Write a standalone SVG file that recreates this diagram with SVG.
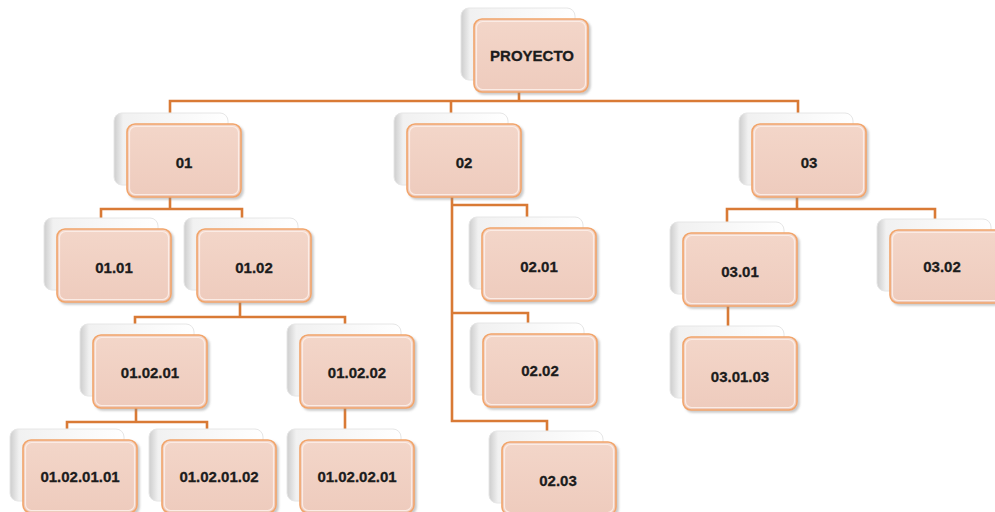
<svg xmlns="http://www.w3.org/2000/svg" xmlns:xlink="http://www.w3.org/1999/xlink" width="995" height="512" viewBox="0 0 995 512">
  <defs>
    <linearGradient id="backFill" x1="0" y1="0" x2="1" y2="0">
      <stop offset="0" stop-color="#cdcdcd"/>
      <stop offset="0.08" stop-color="#f1f1f1"/>
      <stop offset="1" stop-color="#ffffff"/>
    </linearGradient>
    <linearGradient id="frontFill" x1="0" y1="0" x2="0" y2="1">
      <stop offset="0" stop-color="#f3d6c9"/>
      <stop offset="1" stop-color="#eecbbd"/>
    </linearGradient>
    <filter id="shade" x="-10%" y="-10%" width="130%" height="130%">
      <feDropShadow dx="2" dy="2" stdDeviation="1.2" flood-color="#888" flood-opacity="0.45"/>
    </filter>
    <!-- stacked card: a pale back sheet with the peach front sheet on top -->
    <g id="card">
      <rect x="-13" y="-11" width="114" height="72" rx="8" fill="url(#backFill)" stroke="#e6e6e6" stroke-width="1"/>
      <rect x="0" y="0" width="114" height="73" rx="8" fill="url(#frontFill)" stroke="#f2a56b" stroke-width="1.6" filter="url(#shade)"/>
      <rect x="2.5" y="2.5" width="109" height="68" rx="6" fill="none" stroke="#fbece5" stroke-width="1.2"/>
    </g>
  </defs>
  <style>
    .lbl { font-family: "Liberation Sans", Arial, sans-serif; font-weight: bold; font-size: 15px; fill: #1c1c1c; stroke: #1c1c1c; stroke-width: 0.3; text-anchor: middle; }
    .wire { fill: none; stroke: #d97a35; stroke-width: 2.6; stroke-linecap: square; }
  </style>

  <rect width="995" height="512" fill="#ffffff"/>

  <g id="connectors" class="wire">
    <path d="M519,91 V101 M170,101 H798 M170,101 V113 M451,101 V113 M798,101 V113"/>
    <path d="M170,196 V209 M101,209 H242 M101,209 V219 M242,209 V219"/>
    <path d="M240,302 V317 M135,317 H345 M135,317 V325 M345,317 V325"/>
    <path d="M136,408 V422 M67,422 H207 M67,422 V430 M207,422 V430"/>
    <path d="M345,408 V430"/>
    <path d="M452,197 V421 M452,205 H527 V217 M452,313 H528 V323 M452,421 H547 V432"/>
    <path d="M797,198 V209 M727,209 H935 M727,209 V222 M935,209 V218"/>
    <path d="M728,305 V328"/>
  </g>

  <g id="proyecto" transform="translate(474,19)"><use xlink:href="#card"/><text class="lbl" x="58" y="42">PROYECTO</text></g>

  <g id="n01" transform="translate(127,124)"><use xlink:href="#card"/><text class="lbl" x="57" y="44">01</text></g>
  <g id="n02" transform="translate(407,124)"><use xlink:href="#card"/><text class="lbl" x="57" y="44">02</text></g>
  <g id="n03" transform="translate(752,124)"><use xlink:href="#card"/><text class="lbl" x="57" y="44">03</text></g>

  <g id="n01-01" transform="translate(57,229)"><use xlink:href="#card"/><text class="lbl" x="57" y="44">01.01</text></g>
  <g id="n01-02" transform="translate(197,229)"><use xlink:href="#card"/><text class="lbl" x="57" y="44">01.02</text></g>
  <g id="n02-01" transform="translate(482,228)"><use xlink:href="#card"/><text class="lbl" x="57" y="44">02.01</text></g>
  <g id="n03-01" transform="translate(683,233)"><use xlink:href="#card"/><text class="lbl" x="57" y="44">03.01</text></g>
  <g id="n03-02" transform="translate(890,230)"><use xlink:href="#card"/><text class="lbl" x="52" y="42">03.02</text></g>

  <g id="n01-02-01" transform="translate(93,335)"><use xlink:href="#card"/><text class="lbl" x="57" y="43">01.02.01</text></g>
  <g id="n01-02-02" transform="translate(300,335)"><use xlink:href="#card"/><text class="lbl" x="57" y="43">01.02.02</text></g>
  <g id="n02-02" transform="translate(483,334)"><use xlink:href="#card"/><text class="lbl" x="57" y="42">02.02</text></g>
  <g id="n03-01-03" transform="translate(683,337)"><use xlink:href="#card"/><text class="lbl" x="57" y="45">03.01.03</text></g>

  <g id="n01-02-01-01" transform="translate(23,440)"><use xlink:href="#card"/><text class="lbl" x="57" y="42">01.02.01.01</text></g>
  <g id="n01-02-01-02" transform="translate(162,440)"><use xlink:href="#card"/><text class="lbl" x="57" y="42">01.02.01.02</text></g>
  <g id="n01-02-02-01" transform="translate(300,440)"><use xlink:href="#card"/><text class="lbl" x="57" y="42">01.02.02.01</text></g>
  <g id="n02-03" transform="translate(502,442)"><use xlink:href="#card"/><text class="lbl" x="56" y="44">02.03</text></g>
</svg>
